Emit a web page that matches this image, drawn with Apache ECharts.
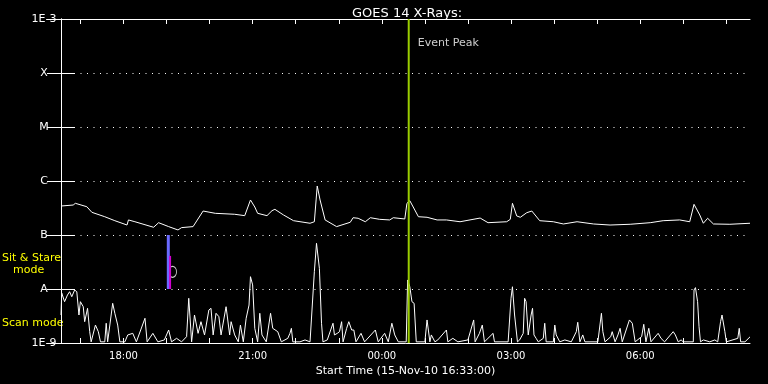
<!DOCTYPE html>
<html><head><meta charset="utf-8">
<script src="https://cdn.jsdelivr.net/npm/echarts@6/dist/echarts.min.js"></script>
<style>html,body{margin:0;padding:0;background:#000;}#chart{width:768px;height:384px;}</style>
</head><body><div id="chart"></div>
<script>
// ---- text ----
const chartTitle = 'GOES 14 X-Rays:';
const xAxisTitle = 'Start Time (15-Nov-10 16:33:00)';
const modeLabels = ['Sit & Stare', 'mode', 'Scan mode'];
const eventPeakLabel = 'Event Peak';

// ---- axes (time in minutes after 16:33) ----
const startClockMinutes = 16 * 60 + 33;
const spanMinutes = 960;
const hourTickTimes = [27, 87, 147, 207, 267, 327, 387, 447, 507, 567, 627, 687, 747, 807, 867, 927];
const labelTickTimes = [87, 267, 447, 627, 807];
const yTickValues = [1e-9, 1e-8, 1e-7, 1e-6, 1e-5, 1e-4, 1e-3];
const yTickLabels = ['1E-9', 'A', 'B', 'C', 'M', 'X', '1E-3'];

// ---- long channel (1-8 A), flux in units of 1e-7 W/m^2 ----
const longTimes = [0,17,20,36,43,61,75,92,94,103,129,136,150,163,168,184,198,215,242,256,264,270,274,287,294,298,310,324,347,353,357,361,368,384,403,407,414,424,431,444,458,463,479,482,486,498,510,524,537,556,584,595,621,626,629,635,640,649,656,667,686,700,719,742,765,793,821,839,862,876,882,890,895,901,909,932,960];
const longFlux = [3.44,3.59,3.86,3.34,2.63,2.18,1.84,1.53,1.90,1.76,1.39,1.69,1.43,1.24,1.37,1.43,2.78,2.52,2.42,2.28,4.45,3.3,2.52,2.28,2.82,2.99,2.35,1.84,1.65,1.76,8.08,4.45,1.90,1.43,1.72,2.09,2.04,1.76,2.09,1.95,1.90,2.09,1.98,3.86,4.32,2.18,2.13,1.90,1.90,1.76,2.06,1.69,1.76,1.95,3.86,2.25,2.13,2.59,2.78,1.84,1.76,1.60,1.76,1.60,1.53,1.58,1.69,1.84,1.90,1.76,3.70,2.35,1.65,2.04,1.60,1.58,1.65];

// ---- short channel (0.5-4 A), flux in units of 1e-9 W/m^2 ----
const shortTimes = [0,1,5,9,12,15,19,22,25,27,31,33,37,40,42,48,52,55,61,63,65,72,75,77,79,82,89,93,100,105,117,120,128,135,144,150,154,161,168,175,178,182,186,191,195,200,206,209,212,216,220,223,230,235,237,242,247,250,254,258,262,264,267,270,274,277,280,286,292,295,302,307,316,319,321,323,333,340,347,353,356,358,360,363,365,371,379,381,385,388,391,393,398,401,405,408,411,418,423,438,442,451,456,461,465,470,481,483,486,489,492,495,507,510,514,516,521,525,537,539,546,553,567,575,577,583,587,590,602,604,623,627,629,632,636,639,644,646,648,651,655,657,659,662,665,672,674,676,686,688,690,695,702,711,718,720,723,727,730,748,753,755,758,766,768,772,776,779,782,792,796,798,800,809,812,815,819,822,832,836,841,853,856,860,864,867,881,882,884,887,889,891,895,904,911,915,919,921,925,927,943,945,947,953,960];
const shortFlux = [3.30,8.43,5.82,7.74,8.91,7.20,9.58,8.91,3.30,5.82,4.70,2.48,4.39,1.62,1.05,2.15,1.62,1.05,1.05,2.32,1.05,5.43,3.55,3.30,2.15,1.05,1.05,1.41,1.51,1.05,2.87,1.05,1.51,1.05,1.14,1.74,1.05,1.22,1.05,1.31,6.73,1.05,3.30,1.51,2.48,1.41,4.08,4.39,1.41,3.55,3.07,1.41,4.70,1.41,2.48,1.41,1.05,2.15,1.05,2.87,5.05,16.9,11.9,1.87,1.05,3.55,1.41,1.05,3.55,1.87,1.62,1.05,1.22,1.51,1.87,1.05,1.05,1.14,1.05,20.9,70.2,65.3,24.2,2.32,1.05,1.14,2.32,1.41,1.51,1.62,2.48,1.05,1.87,2.48,1.74,1.74,1.05,1.51,1.05,1.74,1.05,1.51,1.05,2.32,1.41,1.05,1.05,14.7,11.0,5.82,5.43,1.05,1.05,2.67,1.05,1.41,1.05,1.14,1.74,1.05,1.22,1.05,1.14,2.67,1.05,1.51,2.15,1.05,1.51,1.05,1.05,6.73,11.0,3.30,1.05,1.14,1.51,6.73,5.82,1.41,3.30,4.39,1.41,1.22,1.05,1.22,2.32,1.05,1.05,2.15,1.41,1.05,1.14,1.05,1.62,2.42,1.05,1.41,1.05,1.05,3.55,1.62,1.05,1.31,1.62,1.05,1.41,1.87,1.05,2.67,2.32,2.32,1.05,1.31,2.22,1.05,1.87,1.05,1.51,1.22,1.05,1.62,1.41,1.05,1.14,1.05,1.05,9.58,10.6,5.82,2.0,1.05,1.14,1.05,1.14,1.05,2.48,3.30,1.62,1.05,1.22,1.87,1.05,1.05,1.3];

// ---- sit & stare markers and event ----
const sitStareTime = 149.5;
const sitStareRange = [1e-8, 1e-7];
const sitStarePartTime = 152;
const sitStarePartRange = [1e-8, 4.1e-8];
const sitStareMarker = [155.4, 2.08e-8];
const eventPeakTime = 484.5;
const eventLabelFlux = 3.6e-4;

const FONT = 'DejaVu Sans';
const pair = (ts, vs, unit) => ts.map((t, i) => [t, vs[i] * unit]);
const clock = v => {
  const tot = startClockMinutes + Math.round(v);
  const h = Math.floor(tot / 60) % 24, m = tot % 60;
  return String(h).padStart(2, '0') + ':' + String(m).padStart(2, '0');
};
const yLabel = v => {
  const e = Math.round(Math.log10(v));
  const i = yTickValues.findIndex(t => Math.round(Math.log10(t)) === e);
  return i >= 0 ? yTickLabels[i] : '';
};

const chart = echarts.init(document.getElementById('chart'), null, {renderer: 'canvas'});
const axisLine = {show: true, lineStyle: {color: '#fff', width: 1}};
chart.setOption({
  backgroundColor: '#000',
  animation: false,
  title: {text: chartTitle, left: 347, top: 2,
    textStyle: {color: '#fff', fontFamily: FONT, fontSize: 13, fontWeight: 'normal'}},
  grid: {left: 61, right: 18, top: 19, bottom: 41},
  xAxis: [
    {type: 'value', min: 0, max: spanMinutes, position: 'bottom',
     axisLine, splitLine: {show: false},
     axisTick: {show: true, inside: true, length: 5, customValues: hourTickTimes, lineStyle: {color: '#fff'}},
     axisLabel: {show: true, customValues: labelTickTimes, formatter: clock, color: '#fff', fontFamily: FONT, fontSize: 10, margin: 8},
     name: xAxisTitle, nameLocation: 'middle', nameGap: 20,
     nameTextStyle: {color: '#fff', fontFamily: FONT, fontSize: 11}},
    {type: 'value', min: 0, max: spanMinutes, position: 'top',
     axisLine, splitLine: {show: false},
     axisTick: {show: true, inside: true, length: 5, customValues: hourTickTimes, lineStyle: {color: '#fff'}},
     axisLabel: {show: false}}
  ],
  yAxis: [
    {type: 'log', logBase: 10, min: yTickValues[0], max: yTickValues[yTickValues.length - 1], splitNumber: 6, position: 'left',
     axisLine,
     axisTick: {show: true, inside: true, length: 14, lineStyle: {color: '#fff'}},
     axisLabel: {formatter: yLabel, color: '#fff', fontFamily: FONT, fontSize: 11, align: 'center', margin: 17},
     splitLine: {show: true, lineStyle: {color: '#fff', width: 1, type: [1, 5.5]}}},
    {type: 'log', logBase: 10, min: yTickValues[0], max: yTickValues[yTickValues.length - 1], splitNumber: 6, position: 'right',
     axisLine,
     axisTick: {show: true, inside: true, length: 14, lineStyle: {color: '#fff'}},
     axisLabel: {show: false}, splitLine: {show: false}}
  ],
  graphic: [
    {type: 'text', left: 2, top: 253, style: {text: modeLabels[0], fill: '#ffff00', font: '11px "DejaVu Sans"'}},
    {type: 'text', left: 13, top: 265, style: {text: modeLabels[1], fill: '#ffff00', font: '11px "DejaVu Sans"'}},
    {type: 'text', left: 2, top: 318, style: {text: modeLabels[2], fill: '#ffff00', font: '11px "DejaVu Sans"'}}
  ],
  series: [
    {type: 'line', data: pair(longTimes, longFlux, 1e-7), symbol: 'none', silent: true,
     lineStyle: {color: '#fff', width: 1}},
    {type: 'line', data: pair(shortTimes, shortFlux, 1e-9), symbol: 'none', silent: true,
     lineStyle: {color: '#fff', width: 1}},
    {type: 'line', data: sitStareRange.map(v => [sitStareTime, v]), symbol: 'none',
     lineStyle: {color: '#6a6aff', width: 3}},
    {type: 'line', data: sitStarePartRange.map(v => [sitStarePartTime, v]), symbol: 'none',
     lineStyle: {color: '#d000d0', width: 2}},
    {type: 'scatter', data: [sitStareMarker], symbol: 'circle', symbolSize: [8, 11],
     itemStyle: {color: 'rgba(0,0,0,0)', borderColor: '#fff', borderWidth: 1}},
    {type: 'line', data: [[eventPeakTime, yTickValues[0]], [eventPeakTime, yTickValues[yTickValues.length - 1]]],
     symbol: 'none', lineStyle: {color: '#9acd00', width: 2}},
    {type: 'scatter', data: [[eventPeakTime, eventLabelFlux]], symbolSize: 0,
     label: {show: true, position: 'right', distance: 9, formatter: eventPeakLabel,
       color: '#fff', fontFamily: FONT, fontSize: 11}}
  ]
});
</script></body></html>
